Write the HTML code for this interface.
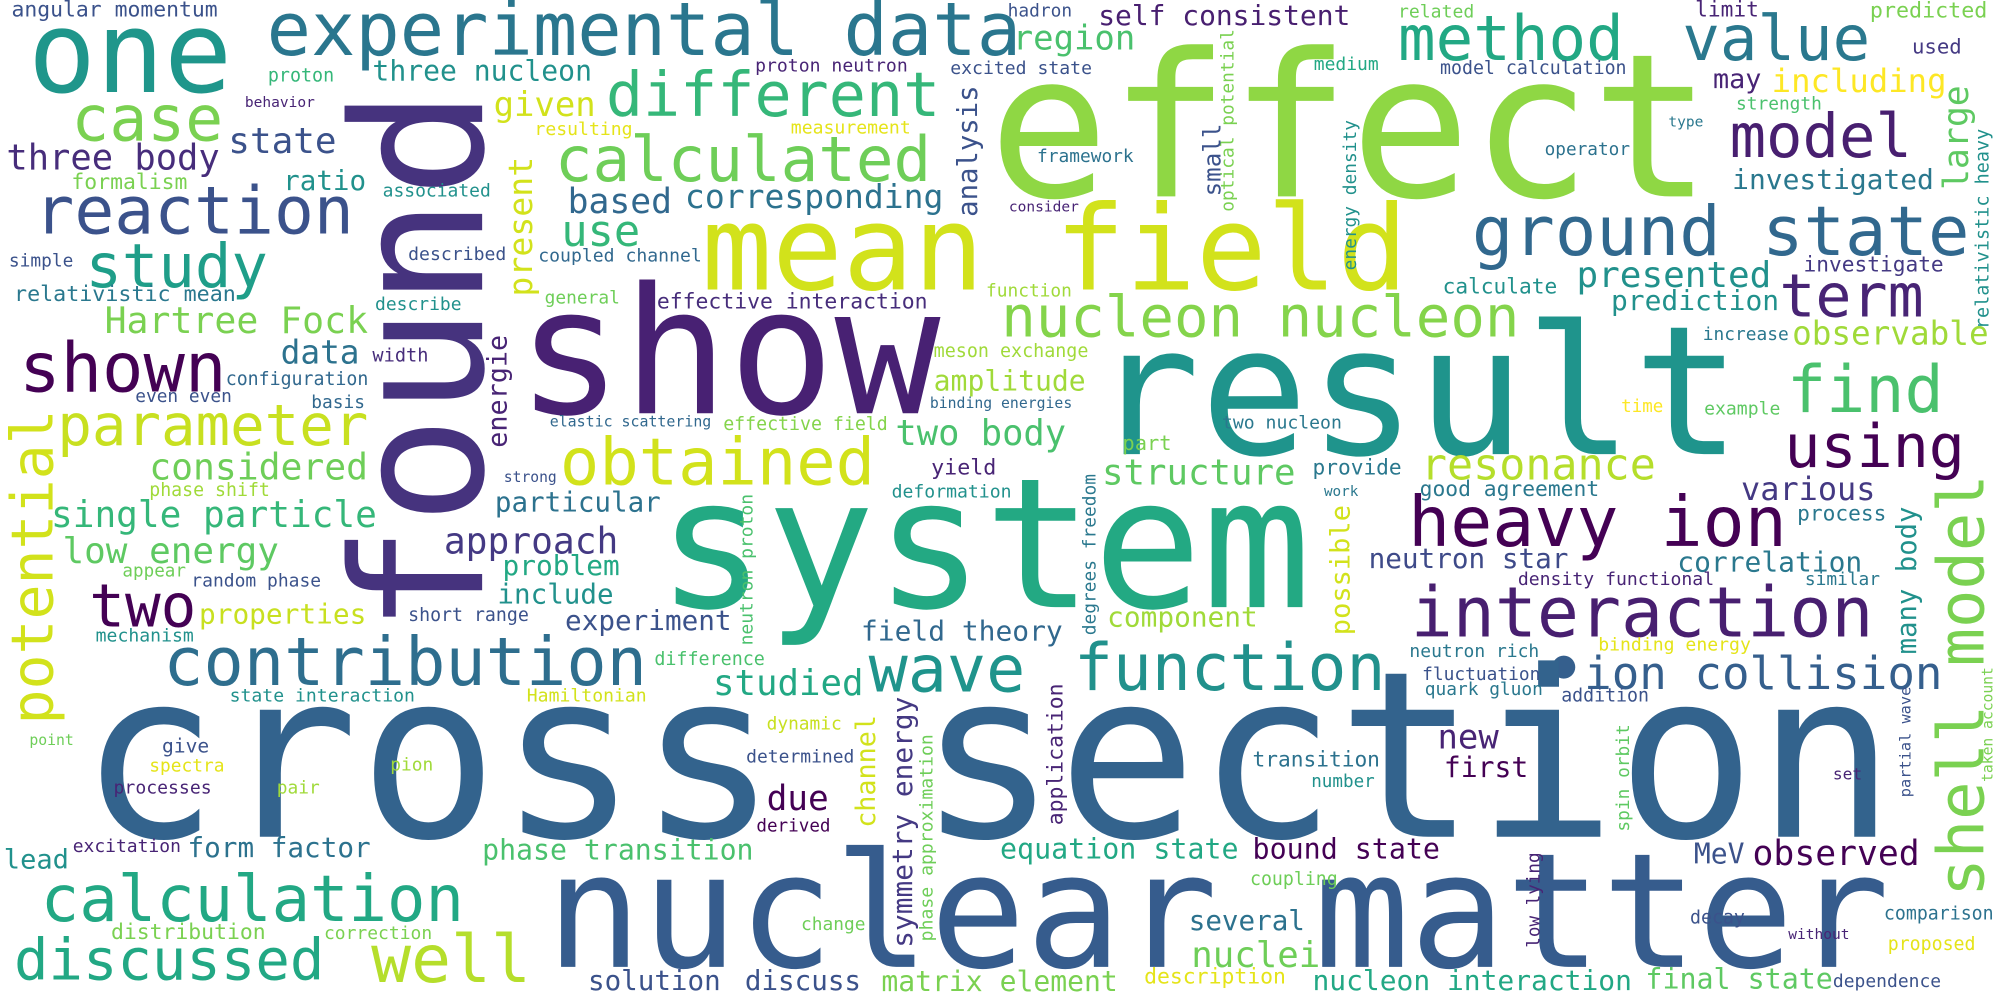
<!DOCTYPE html>
<html><head><meta charset="utf-8"><title>Word cloud</title>
<style>
html,body{margin:0;padding:0;background:#fff;}
svg{display:block;}
text{font-family:"DejaVu Sans Mono","Liberation Mono",monospace;}
</style></head>
<body>
<svg id="cloud" width="2000" height="1000" viewBox="0 0 1568 784" xmlns="http://www.w3.org/2000/svg">
<rect width="1568" height="784" fill="#ffffff"/>
<circle cx="1226" cy="523" r="9" fill="#355f8d"/>
<g id="words"></g>
</svg>
<script>
// [word, x, baseline-y, font-size, color, rotated]
const words = [
["cross section",62,656,182,"#33638d",0],
["nuclear matter",428,758,125,"#365c8d",0],
["effect",775,154,157,"#8fd744",0],
["result",856,356,141,"#1f948c",0],
["system",515,476,142,"#23a983",0],
["show",405,324,138,"#482173",0],
["mean field",550,227,92,"#d2e21b",0],
["found",378,497,142,"#46337e",1],
["one",22,72,88.6,"#1f968b",0],
["experimental data",209,43,57.8,"#2a768e",0],
["different",475,91,48.4,"#35b779",0],
["calculated",435,142,49,"#6ece58",0],
["method",1096,47,49,"#22a884",0],
["value",1319,47,48.9,"#2a788e",0],
["model",1356,123,47.5,"#481f70",0],
["ground state",1154,200,54,"#31688e",0],
["nucleon nucleon",785,264,45,"#84d44b",0],
["term",1395,248,47,"#482475",0],
["find",1401,323,51,"#4ac16d",0],
["using",1399,366,47,"#440154",0],
["heavy ion",1104,428,54.8,"#440154",0],
["interaction",1106,499,54.8,"#481f70",0],
["ion collision",1242,540,35.9,"#355f8d",0],
["function",842,541,50.7,"#21918c",0],
["wave",681,542,51,"#1f948c",0],
["contribution",128,537,52.5,"#2e6e8e",0],
["calculation",32,722,50.1,"#22a884",0],
["discussed",11,768,44.9,"#22a884",0],
["well",291,770,52,"#b5de2b",0],
["reaction",27,183,52,"#3b528b",0],
["study",67,225,47.5,"#1f9e89",0],
["case",56,110,49.4,"#7ad151",0],
["shown",15,307,54,"#440154",0],
["parameter",45,349,45,"#c8e020",0],
["obtained",439,380,51.3,"#d2e21b",0],
["two",70,491,46.5,"#440154",0],
["shell model",1555,703,50,"#7ad151",1],
["potential",41,568,45.6,"#d2e21b",1],
["angular momentum",9,13,16.8,"#3b528b",0],
["proton",210,64,14.4,"#35b779",0],
["behavior",192,84,11.4,"#482475",0],
["three body",5,133,27.8,"#472d7b",0],
["state",179,120,28.2,"#3b528b",0],
["formalism",56,148,16.8,"#7ad151",0],
["simple",7,209,14,"#3b528b",0],
["relativistic mean",11,236,17,"#2a788e",0],
["considered",117,376,28.5,"#6ece58",0],
["single particle",40,413,28.3,"#35b779",0],
["low energy",49,441.6,28.2,"#5ec962",0],
["random phase",150,460,14.1,"#3b528b",0],
["appear",96,452,13.8,"#6ece58",0],
["phase shift",117,389,14.3,"#a0da39",0],
["strong",395,378,11.5,"#3b528b",0],
["mechanism",75,503,14.2,"#21918c",0],
["properties",156,489,21.8,"#c8e020",0],
["short range",320,487,14.3,"#3b528b",0],
["state interaction",180,550,14.2,"#21918c",0],
["Hamiltonian",413,550,14.2,"#d2e21b",0],
["point",23,584,11.6,"#6ece58",0],
["give",127,590,15.4,"#3b528b",0],
["spectra",117,605,14,"#e5e419",0],
["pion",306,604,14,"#a0da39",0],
["processes",89,622,14.2,"#482475",0],
["pair",217,622,14,"#a0da39",0],
["lead",3,681,21.2,"#21918c",0],
["excitation",57,668,14.1,"#482475",0],
["form factor",147,672,21.7,"#2c728e",0],
["distribution",87,736,16.8,"#7ad151",0],
["correction",254,736,14.1,"#7ad151",0],
["solution",461,776,21.6,"#3b528b",0],
["discuss",584,776,21.6,"#3b528b",0],
["matrix element",691,777,22,"#7ad151",0],
["description",897,771,16.8,"#e5e419",0],
["change",628,729,14,"#6ece58",0],
["derived",593,652,13.8,"#440154",0],
["phase transition",378,674,22.1,"#4ac16d",0],
["dynamic",601,572,14,"#c8e020",0],
["determined",585,598,14.1,"#3b528b",0],
["due",601,635,27,"#440154",0],
["channel",686,649,21,"#d2e21b",1],
["symmetry energy",715,743,21.8,"#443983",1],
["application",833,647,16.8,"#482475",1],
["studied",559,545,28,"#22a884",0],
["difference",513,521.5,14.4,"#4ac16d",0],
["experiment",443,494,21.7,"#3b528b",0],
["include",390,473,21.6,"#21918c",0],
["problem",394,451,21.8,"#22a884",0],
["approach",348,434,28.4,"#443983",0],
["particular",388,401,21.6,"#2c728e",0],
["yield",730,372,17,"#482475",0],
["deformation",699,390,14.2,"#21918c",0],
["two body",702,349,27.8,"#4ac16d",0],
["amplitude",732,306,22,"#a0da39",0],
["energie",397,351,21,"#482475",1],
["data",220,285,25.7,"#2c728e",0],
["configuration",177,302,14.3,"#31688e",0],
["even even",106,315,14,"#3b528b",0],
["basis",244,320,14,"#31688e",0],
["width",292,283.5,14.6,"#472d7b",0],
["Hartree Fock",82,261,28.6,"#7ad151",0],
["use",440,193,34.3,"#35b779",0],
["describe",294,243,14.1,"#21918c",0],
["described",320,204,14.2,"#3b528b",0],
["associated",300,154,14.1,"#21918c",0],
["ratio",222,149,21.6,"#21918c",0],
["three nucleon",292,63,22,"#21918c",0],
["given",387,91,26.6,"#d2e21b",0],
["resulting",419,106,14.2,"#e5e419",0],
["based",445,167,27.2,"#31688e",0],
["corresponding",537,163,25.9,"#2c728e",0],
["coupled channel",422,205,14.2,"#31688e",0],
["general",427,238,14,"#6ece58",0],
["effective interaction",515,242,16.8,"#472d7b",0],
["present",417,232.5,26,"#d2e21b",1],
["region",794,39,26.6,"#4ac16d",0],
["hadron",790,13,14,"#3b528b",0],
["self consistent",861,19.6,21.9,"#481f70",0],
["proton neutron",592,56,14.2,"#482475",0],
["excited state",745,58,14.2,"#3b528b",0],
["measurement",620,104.5,14.2,"#e5e419",0],
["analysis",766,170,21.4,"#3b528b",1],
["framework",813,127,14,"#2c728e",0],
["consider",791,166,11.4,"#482475",0],
["optical potential",967,166,14,"#7ad151",1],
["small",957,154,19,"#3b528b",1],
["energy density",1063,212,14,"#21918c",1],
["medium",1030,55,14.1,"#22a884",0],
["model calculation",1129,58,14.3,"#3b528b",0],
["related",1096,13.6,14.2,"#6ece58",0],
["limit",1329,13,16.6,"#482475",0],
["used",1499,42,16.2,"#443983",0],
["predicted",1466,13.6,17,"#7ad151",0],
["may",1343,69,21,"#482475",0],
["including",1389,72,25.3,"#fde725",0],
["strength",1361,86,14,"#4ac16d",0],
["type",1308,99,11.4,"#2a788e",0],
["operator",1211,121.5,13.9,"#2c728e",0],
["investigated",1358,148,21.9,"#2a788e",0],
["large",1543,149,27.3,"#5ec962",1],
["relativistic heavy",1559,258,14.5,"#21918c",1],
["function",773,232.6,14,"#a0da39",0],
["calculate",1131,230,16.6,"#21918c",0],
["presented",1236,225,28.2,"#21918c",0],
["investigate",1414,213,16.6,"#443983",0],
["prediction",1263,243,21.9,"#21918c",0],
["observable",1405,270,25.6,"#a0da39",0],
["increase",1335,266.5,14,"#2a788e",0],
["example",1336,325,14.2,"#5ec962",0],
["time",1271,323,13.7,"#fde725",0],
["two nucleon",958,336,14.2,"#2a788e",0],
["meson exchange",732,280,14.4,"#a0da39",0],
["binding energies",729,320,11.6,"#31688e",0],
["elastic scattering",431,334.5,11.7,"#31688e",0],
["effective field",567,337,14.3,"#84d44b",0],
["part",880,353,16,"#7ad151",0],
["provide",1029,372,16.6,"#2a788e",0],
["resonance",1114,376,34,"#b5de2b",0],
["structure",864,380,28,"#5ec962",0],
["work",1038,389,11.2,"#2a788e",0],
["good agreement",1113,389,16.7,"#2a788e",0],
["various",1365,392,25,"#443983",0],
["process",1409,408,16.6,"#2a788e",0],
["similar",1415,458.6,14,"#2a788e",0],
["correlation",1315,448,21.9,"#2a788e",0],
["many body",1502,513,21.4,"#21918c",1],
["degrees freedom",859,498,14,"#2a788e",1],
["neutron star",1073,445.5,21.7,"#3e4a89",0],
["possible",1058,498,21.2,"#d2e21b",1],
["density functional",1190,458.6,14.2,"#482475",0],
["field theory",675,502,21.9,"#31688e",0],
["component",868,491,21.8,"#a0da39",0],
["neutron proton",590,506,14.1,"#4ac16d",1],
["neutron rich",1105,515,14.1,"#2a788e",0],
["binding energy",1253,510,14.2,"#e5e419",0],
["fluctuation",1115,533,14,"#3b528b",0],
["quark gluon",1117,545,14,"#2a788e",0],
["addition",1224,550,14.3,"#3b528b",0],
["new",1127,587,26.6,"#482475",0],
["first",1132,609,22,"#440154",0],
["transition",982,601,16.6,"#2c728e",0],
["number",1028,617,13.8,"#21918c",0],
["spin orbit",1277,652,14,"#5ec962",1],
["set",1437,611,12.7,"#482475",0],
["partial wave",1498,625,12,"#3b528b",1],
["taken account",1562,613,11.5,"#7ad151",1],
["equation state",784,673,22.2,"#22a884",0],
["bound state",982,673,22.2,"#440154",0],
["MeV",1328,677,22,"#3b528b",0],
["observed",1374,678,27.2,"#440154",0],
["coupling",980,694,14.3,"#6ece58",0],
["low lying",1207,743,13.8,"#482475",1],
["decay",1325,724,14.3,"#3b528b",0],
["comparison",1477,721,14.3,"#2c728e",0],
["without",1402,736,11.4,"#482475",0],
["proposed",1480,745,14.3,"#e5e419",0],
["dependence",1437,774,14.1,"#3b528b",0],
["several",932,729,21.6,"#2c728e",0],
["nuclei",934,758,28,"#6ece58",0],
["phase approximation",731,738,14.2,"#6ece58",1],
["nucleon interaction",1029,776,21.9,"#22a884",0],
["final state",1290,775,22.2,"#5ec962",0]
];
const g = document.getElementById('words');
const NS = 'http://www.w3.org/2000/svg';
for (const w of words) {
  const t = document.createElementNS(NS, 'text');
  t.setAttribute('x', w[1]);
  t.setAttribute('y', w[2]);
  t.setAttribute('font-size', w[3]);
  t.setAttribute('fill', w[4]);
  if (w[5]) t.setAttribute('transform', 'rotate(-90 ' + w[1] + ' ' + w[2] + ')');
  t.textContent = w[0];
  
  
  g.appendChild(t);
}
</script>
</body></html>
